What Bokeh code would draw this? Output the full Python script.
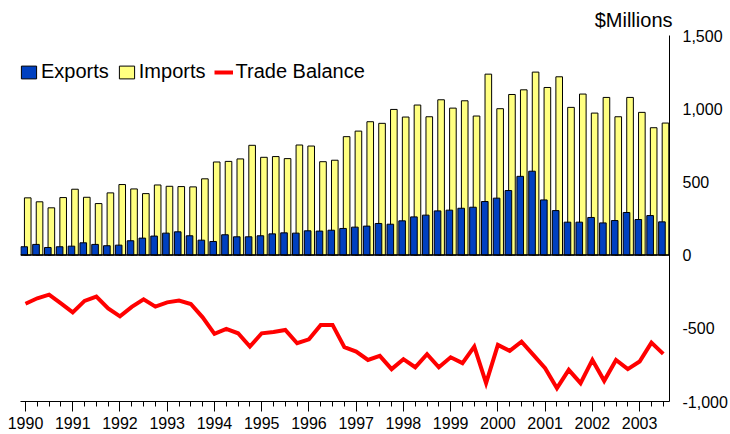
from bokeh.plotting import figure
from bokeh.models import (ColumnDataSource, Range1d, FixedTicker, NumeralTickFormatter,
                          Legend, LegendItem, Span)
from bokeh.embed import file_html
from bokeh.resources import INLINE

years = ["1990", "1991", "1992", "1993", "1994", "1995", "1996",
         "1997", "1998", "1999", "2000", "2001", "2002", "2003"]

exports = [57, 73, 52, 57, 61, 84, 73, 64, 68, 98,
           116, 130, 150, 159, 132, 102, 93, 139, 125, 125,
           132, 145, 152, 150, 166, 164, 170, 182, 191, 198,
           216, 211, 234, 261, 273, 302, 307, 320, 327, 366,
           389, 441, 538, 573, 377, 304, 225, 225, 257, 220,
           236, 291, 243, 270, 227]

imports = [391, 364, 323, 393, 450, 395, 352, 425, 482, 452,
           420, 479, 470, 468, 466, 521, 636, 640, 657, 750,
           668, 673, 659, 752, 745, 638, 648, 809, 847, 911,
           900, 995, 943, 1025, 945, 1061, 1004, 1054, 950, 1236,
           1000, 1097, 1129, 1250, 1145, 1218, 1009, 1100, 970, 1077,
           945, 1077, 975, 870, 902]

balance = [-332, -295, -270, -330, -391, -313, -284, -364, -418, -354,
           -302, -352, -323, -311, -334, -425, -538, -504, -534, -625,
           -534, -525, -511, -602, -575, -477, -477, -629, -659, -716,
           -688, -779, -711, -766, -677, -766, -698, -738, -625, -875,
           -613, -654, -591, -682, -772, -909, -784, -875, -716, -859,
           -716, -779, -727, -598, -675]

n = len(exports)
idx = list(range(n))
FONT = "Liberation Sans"

src = ColumnDataSource(dict(
    x=idx,
    xe=[i - 0.11 for i in idx],
    xi=[i + 0.19 for i in idx],
    exports=exports, imports=imports, balance=balance))

p = figure(width=730, height=434, output_backend="svg", toolbar_location=None,
           x_range=Range1d(-0.423, 54.53), y_range=Range1d(-1000, 1500),
           y_axis_location="right", title="$Millions",
           min_border_left=20, min_border_right=61, min_border_top=35, min_border_bottom=33)

p.title.align = "right"
p.title.offset = -3
p.title.text_font = FONT
p.title.text_font_size = "20px"
p.title.text_font_style = "normal"
p.title.text_color = "black"

p.xgrid.visible = False
p.ygrid.visible = False
p.outline_line_color = None
p.background_fill_color = "white"
p.border_fill_color = "white"

r_imp = p.vbar(x="xi", top="imports", bottom=0, width=0.56, source=src,
               fill_color="#FFFF80", line_color="black", line_width=1)
r_exp = p.vbar(x="xe", top="exports", bottom=0, width=0.56, source=src,
               fill_color="#0040C0", line_color="black", line_width=1)

p.add_layout(Span(location=0, dimension="width", line_color="black", line_width=1.5))

r_bal = p.line(x="x", y="balance", source=src, line_color="#FF0000", line_width=4,
               line_join="miter")

# x axis
xa = p.xaxis[0]
xa.ticker = FixedTicker(ticks=list(range(0, n, 4)), minor_ticks=idx)
xa.major_label_overrides = {i * 4: y for i, y in enumerate(years)}
xa.major_tick_out = 10
xa.major_tick_in = 0
xa.minor_tick_out = 5
xa.minor_tick_in = 0
xa.axis_line_color = "black"
xa.major_tick_line_color = "black"
xa.minor_tick_line_color = "black"
xa.major_label_text_font = FONT
xa.major_label_text_font_size = "16px"
xa.major_label_text_color = "black"
xa.major_label_standoff = 5

# y axis (right)
ya = p.yaxis[0]
ya.ticker = FixedTicker(ticks=[-1000, -500, 0, 500, 1000, 1500])
ya.formatter = NumeralTickFormatter(format="0,0")
ya.major_tick_out = 0
ya.major_tick_in = 0
ya.minor_tick_line_color = None
ya.axis_line_color = "black"
ya.major_label_text_font = FONT
ya.major_label_text_font_size = "16px"
ya.major_label_text_color = "black"
ya.major_label_standoff = 13

legend = Legend(items=[LegendItem(label="Exports", renderers=[r_exp]),
                       LegendItem(label="Imports", renderers=[r_imp]),
                       LegendItem(label="Trade Balance", renderers=[r_bal])],
                orientation="horizontal", location=(-1, 318),
                label_text_font=FONT, label_text_font_size="20px",
                label_text_color="black",
                glyph_width=19, glyph_height=16, label_standoff=3, spacing=8,
                padding=0, margin=0, border_line_color=None,
                background_fill_alpha=0)
p.add_layout(legend)

open("out.html", "w").write(file_html(p, INLINE))
